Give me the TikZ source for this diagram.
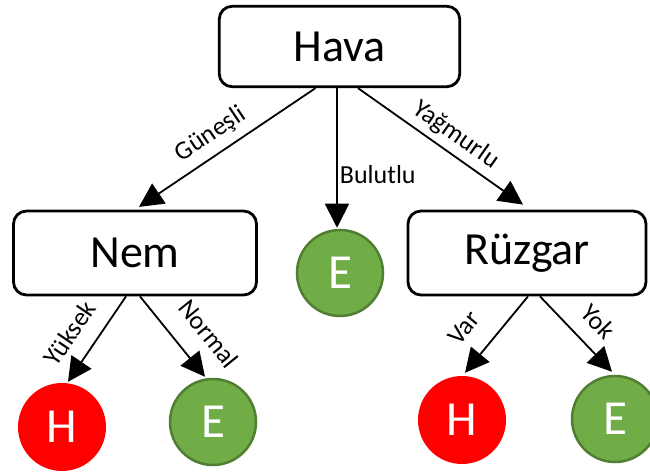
\documentclass[tikz,border=0pt]{standalone}
\usepackage{fontspec}
\setmainfont{Carlito}
\usetikzlibrary{arrows.meta}
\definecolor{leafgreen}{HTML}{70AD47}
\definecolor{leafrim}{HTML}{507E32}
\definecolor{leafred}{HTML}{FF0000}
\tikzstyle{attr node} = [draw,line width=2.8pt,rounded corners=13pt,inner sep=0pt,
                         minimum height=84pt,font=\fontsize{46}{50}\selectfont]
\tikzstyle{yes leaf}  = [circle,draw=leafrim,fill=leafgreen,line width=2.5pt,minimum size=86pt,
                         inner sep=0pt,text=white,font=\fontsize{49}{52}\selectfont]
\tikzstyle{no leaf}   = [circle,fill=leafred,minimum size=88pt,
                         inner sep=0pt,text=white,font=\fontsize{49}{52}\selectfont]
\tikzstyle{branch}    = [-{Triangle[length=24pt,width=24pt]},line width=1.8pt]
\tikzstyle{value}     = [sloped,inner sep=2pt,font=\fontsize{26}{30}\selectfont]

\begin{document}
\begin{tikzpicture}[x=1pt,y=1pt]
    \useasboundingbox (0,0) rectangle (650,471);

    % attribute boxes
    \node(hava)[attr node, minimum width=240.5pt, minimum height=80.5pt] at (339.5,424.5) {Hava};
    \node(nem)[attr node, minimum width=243pt] at (135,218) {Nem};
    \node(ruzgar)[attr node, minimum width=238pt] at (527,218) {Rüzgar};

    % leaves
    \node(bulut)[yes leaf] at (340,198) {E};
    \node(nemH)[no leaf] at (62,44) {H};
    \node(nemE)[yes leaf] at (213,49) {E};
    \node(ruzH)[no leaf] at (462,51) {H};
    \node(ruzE)[yes leaf] at (615,52) {E};

    % first split
    \draw[branch] ([xshift=-24pt]hava.south) -- node[value, above=6pt, pos=0.53]{Güneşli} ([xshift=4pt,yshift=2.7pt]nem.north);
    \draw[branch] ([xshift=-2.5pt]hava.south) -- node[right, inner sep=2pt, font=\fontsize{26}{30}\selectfont, pos=0.62]{Bulutlu} ([xshift=-3pt,yshift=1pt]bulut.north);
    \draw[branch] ([xshift=18.5pt]hava.south) -- node[value, above=4pt, pos=0.53]{Yağmurlu} ([xshift=-4pt,yshift=5pt]ruzgar.north);

    % second split
    \draw[branch] ([xshift=-9pt]nem.south) -- node[value, above=14pt, pos=0.6]{Yüksek} ([xshift=6pt,yshift=1pt]nemH.north);
    \draw[branch] ([xshift=5pt]nem.south) -- node[value, above=18pt, pos=0.7]{Normal} ([xshift=-8pt,yshift=1pt]nemE.north);
    \draw[branch] ([xshift=1pt]ruzgar.south) -- node[value, above=18pt, pos=0.66]{Var} ([xshift=3pt,yshift=3pt]ruzH.north);
    \draw[branch] ([xshift=13pt]ruzgar.south) -- node[value, above=13pt, pos=0.56]{Yok} ([xshift=-3pt,yshift=3pt]ruzE.north);

\end{tikzpicture}
\end{document}
